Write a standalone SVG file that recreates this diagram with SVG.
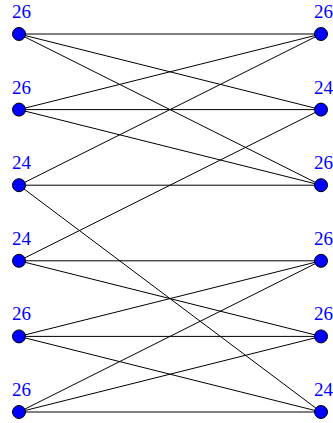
<svg xmlns="http://www.w3.org/2000/svg" width="333" height="423" viewBox="0 0 333 423">
<style>
.e{stroke:#000;stroke-width:1;fill:none}
.n{fill:#0000ff;stroke:#000;stroke-width:1}
.t{fill:#0000ff;font-family:"Liberation Serif",serif;font-size:19px}
</style>
<rect width="333" height="423" fill="#fff"/>
<g id="edges" class="e">
<line x1="19" y1="34" x2="321" y2="34"/>
<line x1="19" y1="34" x2="321" y2="109.6"/>
<line x1="19" y1="34" x2="321" y2="185.2"/>
<line x1="19" y1="109.6" x2="321" y2="34"/>
<line x1="19" y1="109.6" x2="321" y2="109.6"/>
<line x1="19" y1="109.6" x2="321" y2="185.2"/>
<line x1="19" y1="185.2" x2="321" y2="34"/>
<line x1="19" y1="185.2" x2="321" y2="185.2"/>
<line x1="19" y1="185.2" x2="321" y2="412"/>
<line x1="19" y1="260.8" x2="321" y2="109.6"/>
<line x1="19" y1="260.8" x2="321" y2="260.8"/>
<line x1="19" y1="260.8" x2="321" y2="336.4"/>
<line x1="19" y1="336.4" x2="321" y2="260.8"/>
<line x1="19" y1="336.4" x2="321" y2="336.4"/>
<line x1="19" y1="336.4" x2="321" y2="412"/>
<line x1="19" y1="412" x2="321" y2="260.8"/>
<line x1="19" y1="412" x2="321" y2="336.4"/>
<line x1="19" y1="412" x2="321" y2="412"/>
</g>
<g id="L1"><circle class="n" cx="19" cy="34" r="6.5"/><text class="t" x="12" y="18">26</text></g>
<g id="L2"><circle class="n" cx="19" cy="109.6" r="6.5"/><text class="t" x="12" y="93.6">26</text></g>
<g id="L3"><circle class="n" cx="19" cy="185.2" r="6.5"/><text class="t" x="12" y="169.2">24</text></g>
<g id="L4"><circle class="n" cx="19" cy="260.8" r="6.5"/><text class="t" x="12" y="244.8">24</text></g>
<g id="L5"><circle class="n" cx="19" cy="336.4" r="6.5"/><text class="t" x="12" y="320.4">26</text></g>
<g id="L6"><circle class="n" cx="19" cy="412" r="6.5"/><text class="t" x="12" y="396">26</text></g>
<g id="R1"><circle class="n" cx="321" cy="34" r="6.5"/><text class="t" x="314" y="18">26</text></g>
<g id="R2"><circle class="n" cx="321" cy="109.6" r="6.5"/><text class="t" x="314" y="93.6">24</text></g>
<g id="R3"><circle class="n" cx="321" cy="185.2" r="6.5"/><text class="t" x="314" y="169.2">26</text></g>
<g id="R4"><circle class="n" cx="321" cy="260.8" r="6.5"/><text class="t" x="314" y="244.8">26</text></g>
<g id="R5"><circle class="n" cx="321" cy="336.4" r="6.5"/><text class="t" x="314" y="320.4">26</text></g>
<g id="R6"><circle class="n" cx="321" cy="412" r="6.5"/><text class="t" x="314" y="396">24</text></g>
</svg>
